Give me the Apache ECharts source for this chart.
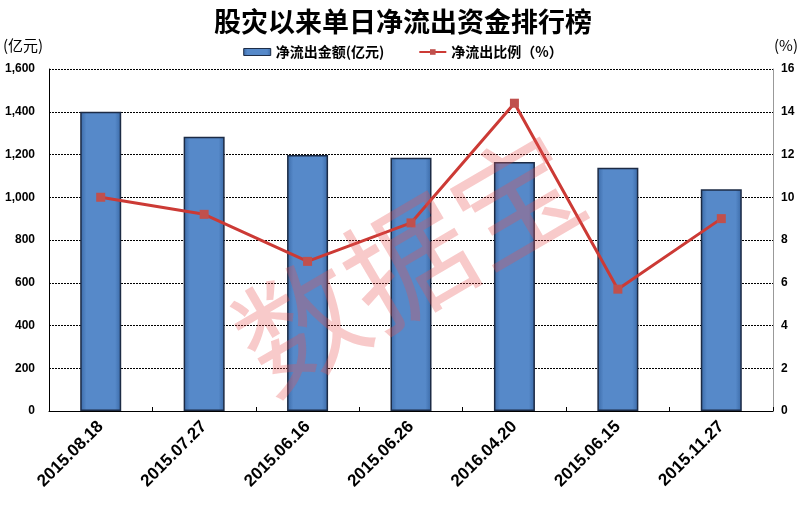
<!DOCTYPE html>
<html><head><meta charset="utf-8">
<script src="https://cdn.jsdelivr.net/npm/echarts@6/dist/echarts.min.js"></script>
<style>html,body{margin:0;padding:0;background:#fff}#c{width:806px;height:505px}</style>
</head><body><div id="c"></div>
<script>
const categories = ['2015.08.18','2015.07.27','2015.06.16','2015.06.26','2016.04.20','2015.06.15','2015.11.27'];
const amountValues = [1400, 1283, 1198, 1185, 1165, 1138, 1038];
const ratioValues = [10.0, 9.2, 7.0, 8.8, 14.4, 5.7, 9.0];
const leftTicks = {min: 0, max: 1600, interval: 200};
const rightTicks = {min: 0, max: 16, interval: 2};

const chart = echarts.init(document.getElementById('c'));
const barGrad = new echarts.graphic.LinearGradient(0,0,1,0,[
  {offset:0,color:'#3a69a6'},{offset:0.15,color:'#5689c9'},{offset:0.85,color:'#5689c9'},{offset:1,color:'#3a69a6'}]);
chart.setOption({
  animation:false,
  title:{text:'股灾以来单日净流出资金排行榜',left:'center',top:3,
    textStyle:{fontFamily:'Noto Sans CJK SC',fontSize:27,fontWeight:'bold',color:'#000'}},
  legend:{top:40,left:'center',itemGap:34,itemWidth:27,itemHeight:7,
    textStyle:{fontFamily:'Noto Sans CJK SC',fontSize:14,fontWeight:'bold',color:'#000'},
    data:[{name:'净流出金额(亿元)',icon:'rect',itemStyle:{borderColor:'#1c2b45',borderWidth:1}},{name:'净流出比例（%）'}]},
  grid:{left:49,right:33,top:69,bottom:94},
  graphic:[
    {type:'text',left:3,top:38,style:{text:'(亿元)',font:'15px "Noto Sans CJK SC"',fill:'#000'}},
    {type:'text',left:774,top:38,style:{text:'(%)',font:'15px "Noto Sans CJK SC"',fill:'#000'}},
    {type:'text',x:408,y:262,rotation:0.53,z:100,silent:true,
      style:{text:'数据宝',font:'125px "Noto Sans CJK SC"',fill:'rgba(232,80,80,0.3)',align:'center',verticalAlign:'middle'}}
  ],
  xAxis:{type:'category',data:categories,
    axisLine:{lineStyle:{color:'#000',width:1}},
    axisTick:{show:true,inside:true,length:4,lineStyle:{color:'#000'}},
    axisLabel:{rotate:45,margin:13,fontFamily:'Arial',fontSize:17,fontWeight:'bold',color:'#000',interval:0}},
  yAxis:[
    {type:'value',min:leftTicks.min,max:leftTicks.max,interval:leftTicks.interval,
      axisLine:{show:true,lineStyle:{color:'#000'}},axisTick:{show:false},
      axisLabel:{fontFamily:'Arial',fontSize:12,fontWeight:'bold',color:'#000',margin:14,
        formatter:v=>v.toLocaleString('en-US')},
      splitLine:{lineStyle:{color:'#000',type:[2,1],width:1}}},
    {type:'value',min:rightTicks.min,max:rightTicks.max,interval:rightTicks.interval,
      axisLine:{show:true,lineStyle:{color:'#999'}},axisTick:{show:false},
      axisLabel:{fontFamily:'Arial',fontSize:12,fontWeight:'bold',color:'#000',margin:8},
      splitLine:{show:false}}
  ],
  series:[
    {name:'净流出金额(亿元)',type:'bar',data:amountValues,barWidth:41,
      itemStyle:{color:barGrad,borderColor:'#1c2b45',borderWidth:1.5}},
    {name:'净流出比例（%）',type:'line',yAxisIndex:1,data:ratioValues,
      symbol:'rect',symbolSize:9,lineStyle:{color:'#cc3a35',width:3},
      itemStyle:{color:'#c0504d'}}
  ]
});
</script></body></html>
